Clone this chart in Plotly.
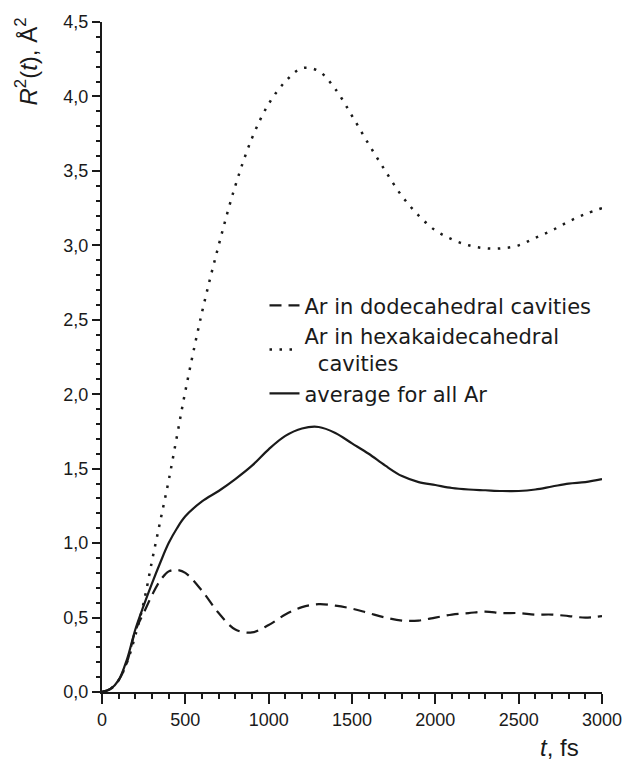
import plotly.graph_objects as go

t = [0, 50, 100, 150, 200, 250, 300, 350, 400, 450, 500, 600, 700, 800, 900, 1000,
     1100, 1200, 1300, 1400, 1500, 1600, 1700, 1800, 1900, 2000, 2100, 2200, 2300,
     2400, 2500, 2600, 2700, 2800, 2900, 3000]

dodeca = [0, 0.02, 0.08, 0.2, 0.41, 0.53, 0.65, 0.75, 0.81, 0.82, 0.80, 0.68, 0.53,
          0.42, 0.40, 0.45, 0.52, 0.57, 0.59, 0.58, 0.56, 0.53, 0.50, 0.48, 0.48,
          0.50, 0.52, 0.53, 0.54, 0.53, 0.53, 0.52, 0.52, 0.51, 0.50, 0.51]

hexa = [0, 0.02, 0.08, 0.2, 0.38, 0.6, 0.88, 1.15, 1.42, 1.72, 2.02, 2.55, 3.0, 3.4,
        3.72, 3.95, 4.1, 4.19, 4.17, 4.05, 3.87, 3.68, 3.5, 3.33, 3.2, 3.1, 3.04,
        3.0, 2.98, 2.98, 3.0, 3.05, 3.1, 3.16, 3.21, 3.25]

avg = [0, 0.02, 0.08, 0.22, 0.42, 0.58, 0.73, 0.87, 1.0, 1.1, 1.18, 1.28, 1.35, 1.43,
       1.52, 1.63, 1.72, 1.77, 1.78, 1.74, 1.67, 1.6, 1.52, 1.45, 1.41, 1.39, 1.37,
       1.36, 1.355, 1.35, 1.35, 1.36, 1.38, 1.40, 1.41, 1.43]

names = ["Ar in dodecahedral cavities",
         "Ar in hexakaidecahedral<br>  cavities",
         "average for all Ar"]

x_ticks = [0, 500, 1000, 1500, 2000, 2500, 3000]

fig = go.Figure()
fig.add_trace(go.Scatter(x=t, y=dodeca, mode="lines", name=names[0],
                         line=dict(color="#1a1a1a", width=2.2, dash="12px,7px", shape="spline")))
fig.add_trace(go.Scatter(x=t, y=hexa, mode="lines", name=names[1],
                         line=dict(color="#1a1a1a", width=2.5, dash="2.5px,7.5px", shape="spline")))
fig.add_trace(go.Scatter(x=t, y=avg, mode="lines", name=names[2],
                         line=dict(color="#1a1a1a", width=2.2, shape="spline")))

font_family = "Liberation Sans, Arial, sans-serif"

fig.update_layout(
    width=634, height=767,
    margin=dict(l=102, r=23, t=14, b=75),
    paper_bgcolor="white", plot_bgcolor="white",
    separators=", ",
    font=dict(family=font_family, size=18, color="#1a1a1a"),
    showlegend=True,
    legend=dict(x=0.325, y=0.607, xanchor="left", yanchor="top",
                bgcolor="rgba(0,0,0,0)",
                font=dict(family="DejaVu Sans, sans-serif", size=21),
                tracegroupgap=0),
    xaxis=dict(range=[0, 3000], showgrid=False, zeroline=False,
               showline=True, linecolor="#1a1a1a", linewidth=2,
               ticks="outside", ticklen=10, tickwidth=2, tickcolor="#1a1a1a",
               tickvals=x_ticks,
               tickfont=dict(size=18),
               minor=dict(dtick=100, ticks="outside", ticklen=5, tickwidth=1.5,
                          tickcolor="#1a1a1a")),
    yaxis=dict(range=[0, 4.5], showgrid=False, zeroline=False,
               showline=True, linecolor="#1a1a1a", linewidth=2,
               ticks="outside", ticklen=8, tickwidth=2, tickcolor="#1a1a1a",
               dtick=0.5, tick0=0, tickformat=".1f",
               tickfont=dict(size=18),
               minor=dict(dtick=0.1, ticks="outside", ticklen=4, tickwidth=1.5,
                          tickcolor="#1a1a1a")),
    annotations=[
        dict(text="<i>R</i><sup>2</sup>(<i>t</i>), Å<sup>2</sup>", xref="paper", yref="paper",
             x=-0.152, y=0.941, xanchor="center", yanchor="middle", textangle=-90,
             showarrow=False, font=dict(size=24)),
        dict(text="<i>t</i>, fs", xref="paper", yref="paper",
             x=0.914, y=-0.083, xanchor="center", yanchor="middle",
             showarrow=False, font=dict(size=24)),
    ],
)

fig.write_html("out.html")
